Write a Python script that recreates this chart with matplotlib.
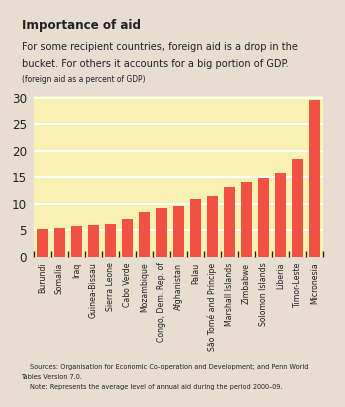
import matplotlib.pyplot as plt
import numpy as np

countries = ['Burundi', 'Somalia', 'Iraq', 'Guinea-Bissau', 'Sierra Leone', 'Cabo Verde',
             'Mozambique', 'Congo, Dem. Rep. of', 'Afghanistan', 'Palau',
             'São Tomé and Príncipe', 'Marshall Islands', 'Zimbabwe', 'Solomon Islands',
             'Liberia', 'Timor-Leste', 'Micronesia']
aid = [5.25, 5.4, 5.9, 6.05, 6.2, 7.1, 8.5, 9.25, 9.6, 10.9, 11.45, 13.25, 14.2, 14.95,
       15.8, 18.4, 29.5]
yticks = [0, 5, 10, 15, 20, 25, 30]

fam = ['DejaVu Sans']
st = 'condensed'
bg = '#e7ddd1'

fig = plt.figure(figsize=(3.45, 4.07), dpi=100, facecolor=bg)
ax = fig.add_axes([34 / 345, (407 - 257) / 407, 289 / 345, 161 / 407])
ax.set_facecolor('#f8f1b1')

x = np.arange(len(countries))
ax.bar(x, aid, width=0.6, color='#f05142', zorder=3)

# white gridlines
for v in yticks[1:]:
    ax.axhline(v, color='white', lw=1.4, zorder=1)

ax.set_xlim(-0.5, len(countries) - 0.5)
ax.set_ylim(0, 30.3)
ax.set_yticks(yticks)
ax.set_yticklabels([str(v) for v in yticks], family=fam, stretch=st, fontsize=9.5, color='#222222')
ax.tick_params(axis='y', length=0, pad=5)

# names under bars, little ticks between them
ax.set_xticks(x)
ax.set_xticklabels(countries, rotation=90, family=fam, stretch=st, fontsize=6.2, color='#222222',
                   va='top')
ax.tick_params(axis='x', which='major', length=0, pad=4)
ax.set_xticks(np.arange(-0.5, len(countries)), minor=True)
ax.tick_params(axis='x', which='minor', direction='in', length=4, width=1, color='#222222')

for s in ax.spines.values():
    s.set_visible(False)

fig.text(22 / 345, 1 - 26 / 407, 'Importance of aid', family=fam, stretch=st, fontsize=9.5,
         fontweight='bold', color='#222222', va='center')
fig.text(22 / 345, 1 - 47 / 407, 'For some recipient countries, foreign aid is a drop in the',
         family=fam, stretch=st, fontsize=7.8, color='#222222', va='center')
fig.text(22 / 345, 1 - 64 / 407, 'bucket. For others it accounts for a big portion of GDP.',
         family=fam, stretch=st, fontsize=7.8, color='#222222', va='center')
fig.text(22 / 345, 1 - 80 / 407, '(foreign aid as a percent of GDP)',
         family=fam, stretch=st, fontsize=6, color='#222222', va='center')

fig.text(30 / 345, 1 - 367 / 407,
         'Sources: Organisation for Economic Co-operation and Development; and Penn World',
         family=fam, stretch=st, fontsize=5.2, color='#222222', va='center')
fig.text(21 / 345, 1 - 377 / 407, 'Tables Version 7.0.',
         family=fam, stretch=st, fontsize=5.2, color='#222222', va='center')
fig.text(30 / 345, 1 - 387 / 407,
         'Note: Represents the average level of annual aid during the period 2000–09.',
         family=fam, stretch=st, fontsize=5.2, color='#222222', va='center')

fig.savefig('out.png', dpi=100, facecolor=bg)
